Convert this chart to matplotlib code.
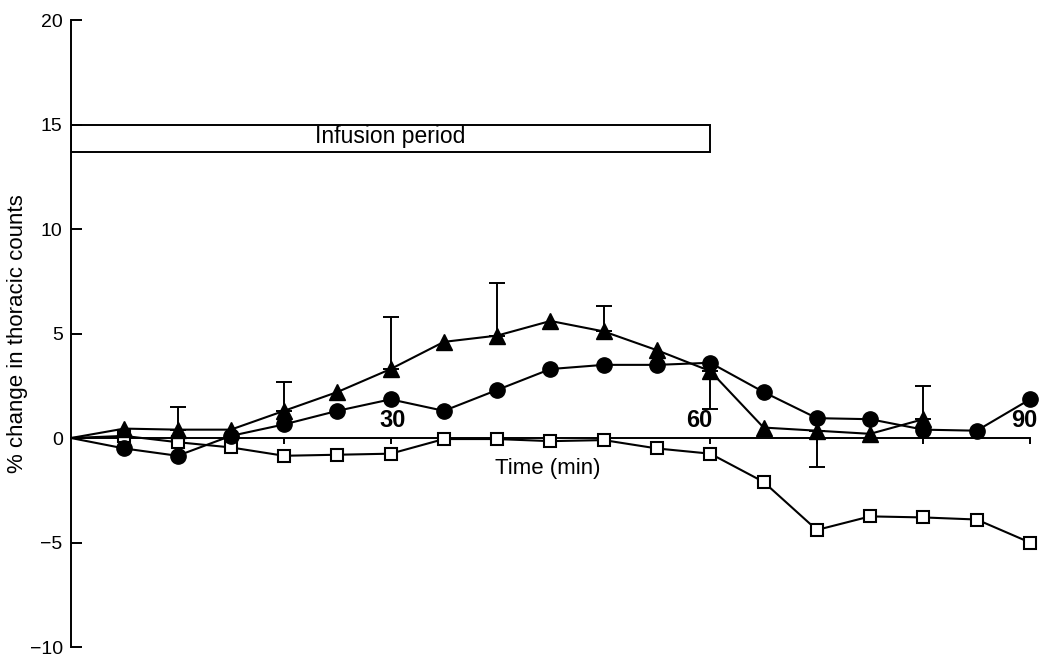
import matplotlib.pyplot as plt
from matplotlib.patches import Rectangle

plt.rcParams["font.family"] = ["Liberation Sans", "DejaVu Sans"]

# time points (min)
time = [0, 5, 10, 15, 20, 25, 30, 35, 40, 45, 50, 55, 60, 65, 70, 75, 80, 85, 90]
time_tri = time[:17]

# % change in thoracic counts
triangles = [0, 0.45, 0.4, 0.4, 1.3, 2.2, 3.3, 4.6, 4.9, 5.6, 5.1, 4.2, 3.2, 0.5, 0.35, 0.2, 0.9]
circles = [0, -0.5, -0.85, 0.1, 0.65, 1.3, 1.85, 1.3, 2.3, 3.3, 3.5, 3.5, 3.6, 2.2, 0.95, 0.9, 0.4, 0.35, 1.85]
squares = [0, 0.1, -0.2, -0.45, -0.85, -0.8, -0.75, -0.05, -0.05, -0.15, -0.1, -0.5, -0.75,
           -2.1, -4.4, -3.75, -3.8, -3.9, -5.0]

# one-sided error bars on the triangle series
err_time = [10, 20, 30, 40, 50, 60, 70, 80]
err_val = [0.4, 1.3, 3.3, 4.9, 5.1, 3.2, 0.35, 0.9]
err_lo = [0, 0, 0, 0, 0, 1.8, 1.75, 0]
err_hi = [1.1, 1.4, 2.5, 2.5, 1.2, 0, 0, 1.6]

x_ticks = [10, 20, 30, 40, 50, 60, 70, 80, 90]
x_labels = ["30", "60", "90"]
x_label_pos = [30.2, 59.0, 89.5]
y_ticks = [-10, -5, 0, 5, 10, 15, 20]
infusion = (0, 60, 13.7, 15)

fig = plt.figure(figsize=(10.42, 6.56), dpi=100)
ax = fig.add_axes([0.0681, 0.0137, 0.9357, 0.9558])
ax.set_xlim(0, 91.5)
ax.set_ylim(-10, 20)

for s in ["top", "right"]:
    ax.spines[s].set_visible(False)
ax.spines["left"].set_linewidth(1.4)
ax.spines["bottom"].set_position(("data", 0))
ax.spines["bottom"].set_bounds(0, 90)
ax.spines["bottom"].set_linewidth(1.4)

ax.set_yticks(y_ticks)
ax.set_yticklabels([str(v).replace("-", "\u2212") for v in y_ticks])
ax.tick_params(axis="y", direction="in", length=8, width=1.4, labelsize=14, pad=6)
ax.set_xticks(x_ticks)
ax.set_xticklabels([])
ax.tick_params(axis="x", direction="out", length=4, width=1.4)

lw = 1.5
ax.plot(time, squares, color="black", lw=lw, marker="s", ms=9, mfc="white",
        mec="black", mew=1.5, markevery=slice(1, None), zorder=3)
ax.plot(time, circles, color="black", lw=lw, marker="o", ms=11,
        markevery=slice(1, None), zorder=4)
ax.plot(time_tri, triangles, color="black", lw=lw, marker="^", ms=12,
        markevery=slice(1, None), zorder=4)
ax.errorbar(err_time, err_val, yerr=[err_lo, err_hi], fmt="none", ecolor="black",
            elinewidth=1.4, capsize=6, capthick=1.4, zorder=2)

x0, x1, y0, y1 = infusion
ax.add_patch(Rectangle((x0, y0), x1 - x0, y1 - y0, fill=False, ec="black", lw=1.4))
ax.text((x0 + x1) / 2, (y0 + y1) / 2 + 0.1, "Infusion period", ha="center", va="center",
        fontsize=16.5)

for pos, lab in zip(x_label_pos, x_labels):
    ax.text(pos, 0.3, lab, ha="center", va="bottom", fontsize=17, fontweight="bold")

ax.text(44.7, -1.45, "Time (min)", ha="center", va="center", fontsize=16)
ax.set_ylabel("% change in thoracic counts", fontsize=16)
ax.yaxis.set_label_coords(-0.044, 0.5)

fig.savefig("out.png", dpi=100)
